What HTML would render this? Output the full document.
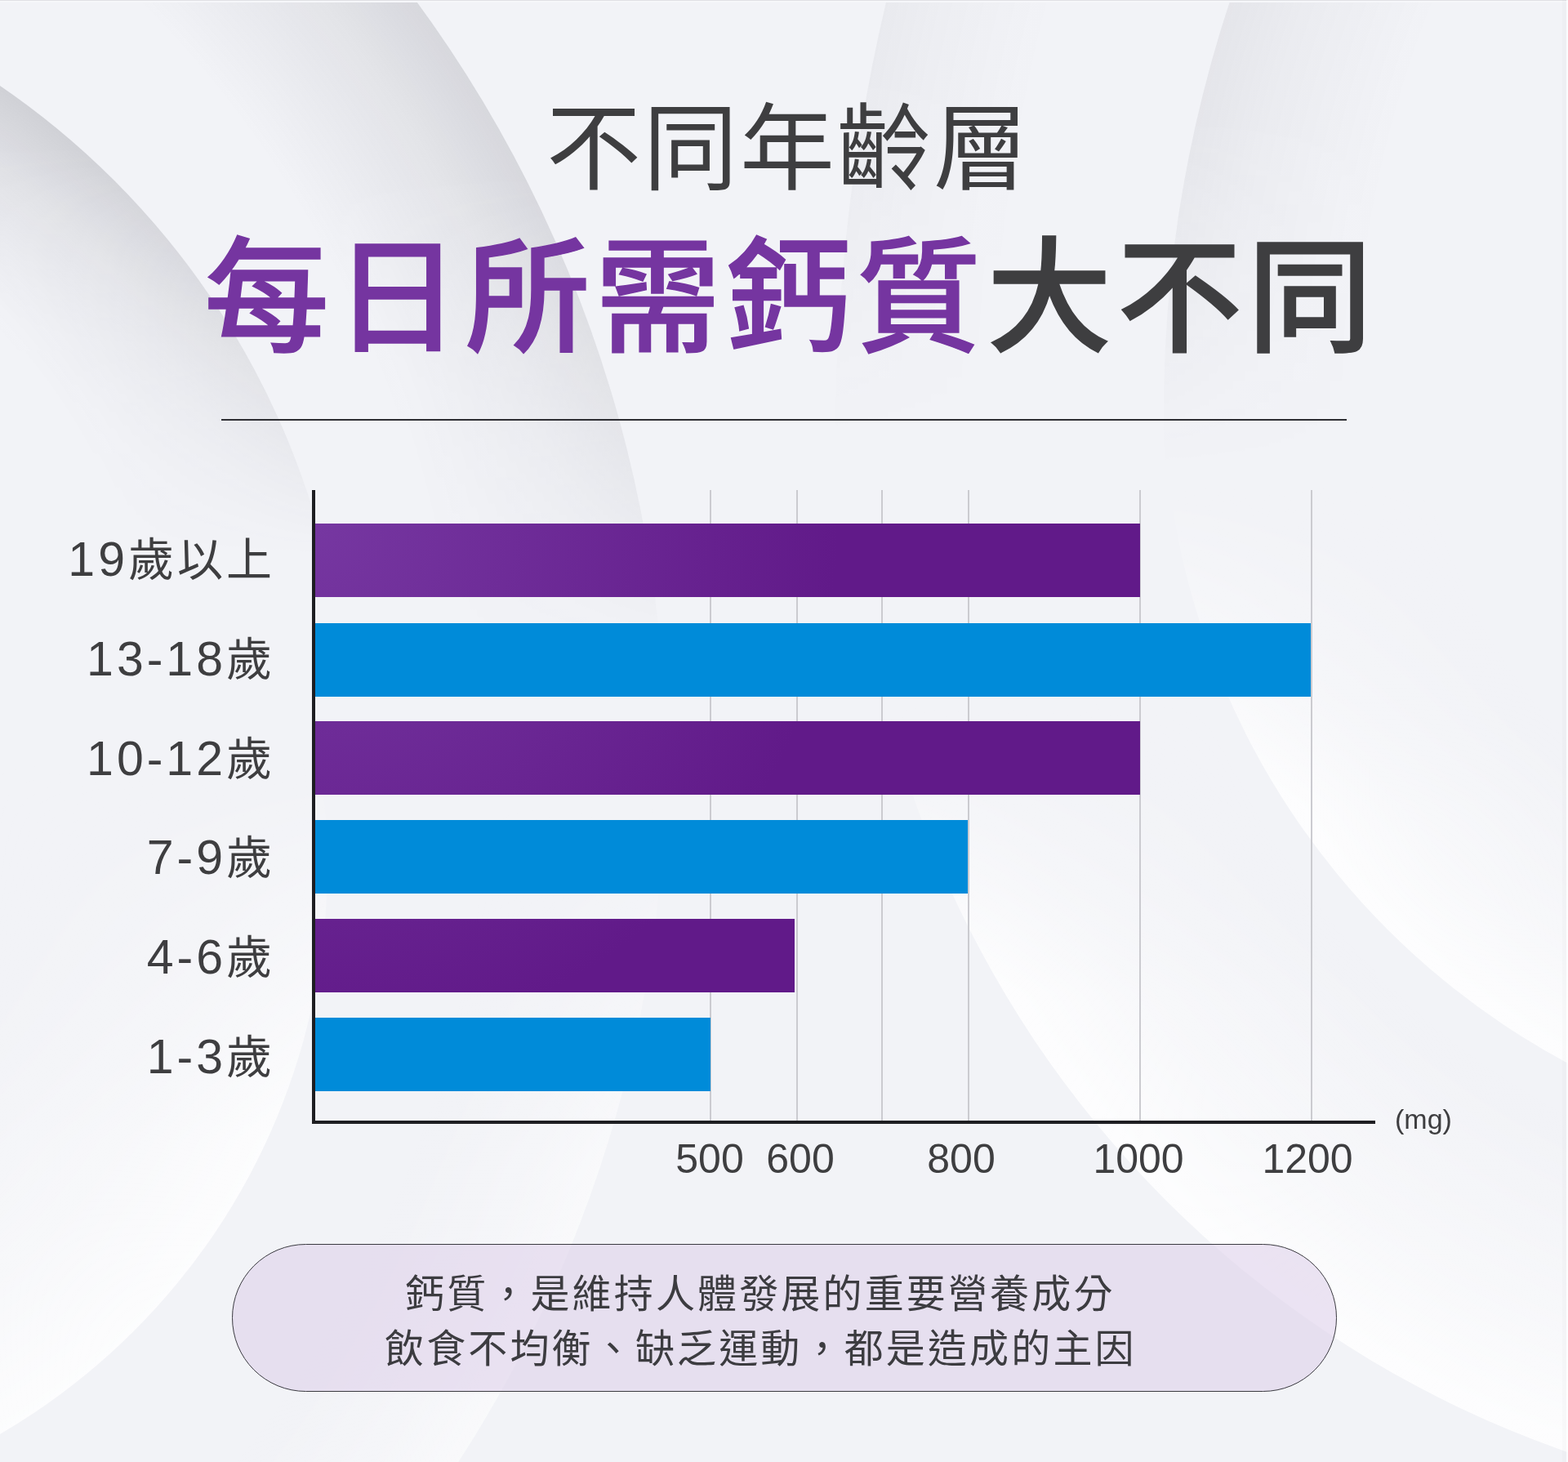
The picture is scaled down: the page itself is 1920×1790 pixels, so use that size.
<!DOCTYPE html>
<html lang="zh-Hant">
<head>
<meta charset="utf-8">
<style>
html,body{margin:0;padding:0;}
body{width:1920px;height:1790px;overflow:hidden;position:relative;background:#f2f3f7;
  font-family:"Liberation Sans","Noto Sans CJK TC",sans-serif;color:#3e3e40;}
#bg{position:absolute;left:0;top:0;width:1920px;height:1790px;}
.abs{position:absolute;white-space:nowrap;}
#t1{left:669px;top:125px;font:400 116px/1 "Liberation Sans","Noto Sans CJK TC",sans-serif;letter-spacing:2.5px;color:#3e3e40;}
#t2{left:250px;top:289px;font:500 153px/1 "Liberation Sans","Noto Sans CJK TC",sans-serif;letter-spacing:6.7px;color:#3e3e40;}
#t2 .p{color:#7535a0;-webkit-text-stroke:1.5px #7535a0;}
#t2 .d{-webkit-text-stroke:1.5px #3e3e40;}
#rule{left:271px;top:513px;width:1378px;height:2px;background:#2e2e33;}
.grid{position:absolute;top:600px;width:2px;height:773px;background:#cbcbd0;}
.bar{position:absolute;left:386px;height:90px;}
.pu{background-color:#611a89;}
.bl{background:#008bd9;}
#yax{left:382px;top:600px;width:4px;height:776px;background:#1e1e22;}
#xax{left:382px;top:1372px;width:1302px;height:4px;background:#1e1e22;}
.yl{position:absolute;right:1583px;font:400 59px/1 "Liberation Sans","Noto Sans CJK TC",sans-serif;letter-spacing:4px;color:#3e3e40;white-space:nowrap;}
.yl .c{font-size:56px;}
.xl{position:absolute;top:1394px;font:400 50px/1 "Liberation Sans","Noto Sans CJK TC",sans-serif;color:#3e3e40;white-space:nowrap;transform:translateX(-50%);}
#mg{left:1708px;top:1353px;font:400 34px/1 "Liberation Sans","Noto Sans CJK TC",sans-serif;color:#3e3e40;}
#pill{left:284px;top:1523px;width:1351px;height:179px;border:1px solid #3a3a40;border-radius:91px;background:rgba(220,206,234,0.55);}
.pt{position:absolute;font:400 48px/1 "Liberation Sans","Noto Sans CJK TC",sans-serif;letter-spacing:3.15px;color:#3c3c40;white-space:nowrap;}
</style>
</head>
<body>
<svg id="bg" width="1920" height="1790" viewBox="0 0 1920 1790"><defs><radialGradient id="gAs" cx="-759" cy="933" r="1574" gradientUnits="userSpaceOnUse"><stop offset="0.0000" stop-color="#4a4a55" stop-opacity="0"/><stop offset="0.8348" stop-color="#4a4a55" stop-opacity="0"/><stop offset="0.9422" stop-color="#4a4a55" stop-opacity="0.08800000000000001"/><stop offset="1.0000" stop-color="#4a4a55" stop-opacity="0.16"/></radialGradient><linearGradient id="lAs" x1="0" y1="0" x2="0" y2="1790" gradientUnits="userSpaceOnUse"><stop offset="0" stop-color="#fff"/><stop offset="0.12" stop-color="#fff"/><stop offset="0.45" stop-color="#000"/></linearGradient><mask id="mAs"><rect width="1920" height="1790" fill="url(#lAs)"/></mask><radialGradient id="gAh" cx="-759" cy="933" r="1574" gradientUnits="userSpaceOnUse"><stop offset="0.0000" stop-color="#ffffff" stop-opacity="0"/><stop offset="0.8602" stop-color="#ffffff" stop-opacity="0"/><stop offset="0.9511" stop-color="#ffffff" stop-opacity="0.30250000000000005"/><stop offset="1.0000" stop-color="#ffffff" stop-opacity="0.55"/></radialGradient><linearGradient id="lAh" x1="0" y1="0" x2="0" y2="1790" gradientUnits="userSpaceOnUse"><stop offset="0.55" stop-color="#000"/><stop offset="0.8" stop-color="#fff"/></linearGradient><mask id="mAh"><rect width="1920" height="1790" fill="url(#lAh)"/></mask><radialGradient id="gBs" cx="-553" cy="914" r="980" gradientUnits="userSpaceOnUse"><stop offset="0.0000" stop-color="#4a4a55" stop-opacity="0"/><stop offset="0.7653" stop-color="#4a4a55" stop-opacity="0"/><stop offset="0.9179" stop-color="#4a4a55" stop-opacity="0.11000000000000001"/><stop offset="1.0000" stop-color="#4a4a55" stop-opacity="0.2"/></radialGradient><linearGradient id="lBs" x1="0" y1="0" x2="0" y2="1790" gradientUnits="userSpaceOnUse"><stop offset="0" stop-color="#fff"/><stop offset="0.1" stop-color="#fff"/><stop offset="0.38" stop-color="#000"/></linearGradient><mask id="mBs"><rect width="1920" height="1790" fill="url(#lBs)"/></mask><radialGradient id="gBh" cx="-407" cy="1058" r="808" gradientUnits="userSpaceOnUse"><stop offset="0.0000" stop-color="#ffffff" stop-opacity="0"/><stop offset="0.4802" stop-color="#ffffff" stop-opacity="0"/><stop offset="0.8181" stop-color="#ffffff" stop-opacity="0.44000000000000006"/><stop offset="1.0000" stop-color="#ffffff" stop-opacity="0.8"/></radialGradient><linearGradient id="lBh" x1="0" y1="0" x2="0" y2="1790" gradientUnits="userSpaceOnUse"><stop offset="0.52" stop-color="#000"/><stop offset="0.78" stop-color="#fff"/></linearGradient><mask id="mBh"><rect width="1920" height="1790" fill="url(#lBh)"/></mask><radialGradient id="gR1s" cx="3017" cy="503" r="1592" gradientUnits="userSpaceOnUse"><stop offset="0.0000" stop-color="#4a4a55" stop-opacity="0"/><stop offset="0.8492" stop-color="#4a4a55" stop-opacity="0"/><stop offset="0.9472" stop-color="#4a4a55" stop-opacity="0.04125"/><stop offset="1.0000" stop-color="#4a4a55" stop-opacity="0.075"/></radialGradient><linearGradient id="lR1s" x1="0" y1="0" x2="0" y2="1790" gradientUnits="userSpaceOnUse"><stop offset="0" stop-color="#fff"/><stop offset="0.08" stop-color="#fff"/><stop offset="0.32" stop-color="#000"/></linearGradient><mask id="mR1s"><rect width="1920" height="1790" fill="url(#lR1s)"/></mask><radialGradient id="gR1h" cx="2363" cy="474" r="939" gradientUnits="userSpaceOnUse"><stop offset="0.0000" stop-color="#ffffff" stop-opacity="0"/><stop offset="0.6592" stop-color="#ffffff" stop-opacity="0"/><stop offset="0.8807" stop-color="#ffffff" stop-opacity="0.4675"/><stop offset="1.0000" stop-color="#ffffff" stop-opacity="0.85"/></radialGradient><linearGradient id="lR1h" x1="0" y1="0" x2="0" y2="1790" gradientUnits="userSpaceOnUse"><stop offset="0.33" stop-color="#000"/><stop offset="0.55" stop-color="#fff"/></linearGradient><mask id="mR1h"><rect width="1920" height="1790" fill="url(#lR1h)"/></mask><radialGradient id="gR2s" cx="3341" cy="535" r="2318" gradientUnits="userSpaceOnUse"><stop offset="0.0000" stop-color="#4a4a55" stop-opacity="0"/><stop offset="0.9137" stop-color="#4a4a55" stop-opacity="0"/><stop offset="0.9698" stop-color="#4a4a55" stop-opacity="0.027500000000000004"/><stop offset="1.0000" stop-color="#4a4a55" stop-opacity="0.05"/></radialGradient><linearGradient id="lR2s" x1="0" y1="0" x2="0" y2="1790" gradientUnits="userSpaceOnUse"><stop offset="0" stop-color="#fff"/><stop offset="0.05" stop-color="#fff"/><stop offset="0.3" stop-color="#000"/></linearGradient><mask id="mR2s"><rect width="1920" height="1790" fill="url(#lR2s)"/></mask><radialGradient id="gR2h" cx="2346" cy="551" r="1299" gradientUnits="userSpaceOnUse"><stop offset="0.0000" stop-color="#ffffff" stop-opacity="0"/><stop offset="0.7075" stop-color="#ffffff" stop-opacity="0"/><stop offset="0.8976" stop-color="#ffffff" stop-opacity="0.4675"/><stop offset="1.0000" stop-color="#ffffff" stop-opacity="0.85"/></radialGradient><linearGradient id="lR2h" x1="0" y1="0" x2="0" y2="1790" gradientUnits="userSpaceOnUse"><stop offset="0.48" stop-color="#000"/><stop offset="0.68" stop-color="#fff"/></linearGradient><mask id="mR2h"><rect width="1920" height="1790" fill="url(#lR2h)"/></mask></defs><rect width="1920" height="1790" fill="#f2f3f7"/><circle cx="-759" cy="933" r="1574" fill="url(#gAs)" mask="url(#mAs)"/><circle cx="-759" cy="933" r="1574" fill="url(#gAh)" mask="url(#mAh)"/><circle cx="-553" cy="914" r="980" fill="url(#gBs)" mask="url(#mBs)"/><circle cx="-407" cy="1058" r="808" fill="url(#gBh)" mask="url(#mBh)"/><circle cx="3017" cy="503" r="1592" fill="url(#gR1s)" mask="url(#mR1s)"/><circle cx="2363" cy="474" r="939" fill="url(#gR1h)" mask="url(#mR1h)"/><circle cx="3341" cy="535" r="2318" fill="url(#gR2s)" mask="url(#mR2s)"/><circle cx="2346" cy="551" r="1299" fill="url(#gR2h)" mask="url(#mR2h)"/><rect x="0" y="0" width="1920" height="1" fill="#e0e0e4"/><rect x="0" y="1" width="1920" height="2" fill="#f6f7fa"/><rect x="1913" y="0" width="5" height="1790" fill="#000" opacity="0.015"/><rect x="1918" y="0" width="2" height="1790" fill="#ffffff" opacity="0.7"/></svg>

<div id="t1" class="abs">不同年齡層</div>
<div id="t2" class="abs"><span class="p">每日所需鈣質</span><span class="d">大不同</span></div>
<div id="rule" class="abs"></div>

<div class="grid" style="left:869px"></div>
<div class="grid" style="left:975px"></div>
<div class="grid" style="left:1079px"></div>
<div class="grid" style="left:1185px"></div>
<div class="grid" style="left:1395px"></div>
<div class="grid" style="left:1605px"></div>

<div class="bar pu" style="top:641px;width:1010px;background-image:radial-gradient(circle 640px at 0px 0px,#7637a1,#611a89)"></div>
<div class="bar bl" style="top:763px;width:1219px"></div>
<div class="bar pu" style="top:883px;width:1010px;background-image:radial-gradient(circle 640px at 0px -242px,#7637a1,#611a89)"></div>
<div class="bar bl" style="top:1004px;width:799px"></div>
<div class="bar pu" style="top:1125px;width:587px;background-image:radial-gradient(circle 640px at 0px -484px,#7637a1,#611a89)"></div>
<div class="bar bl" style="top:1246px;width:484px"></div>

<div id="yax" class="abs"></div>
<div id="xax" class="abs"></div>

<div class="yl" style="top:656px">19<span class="c">歲以上</span></div>
<div class="yl" style="top:778px">13-18<span class="c">歲</span></div>
<div class="yl" style="top:900px">10-12<span class="c">歲</span></div>
<div class="yl" style="top:1021px">7-9<span class="c">歲</span></div>
<div class="yl" style="top:1143px">4-6<span class="c">歲</span></div>
<div class="yl" style="top:1265px">1-3<span class="c">歲</span></div>

<div class="xl" style="left:869px">500</div>
<div class="xl" style="left:980px">600</div>
<div class="xl" style="left:1177px">800</div>
<div class="xl" style="left:1394px">1000</div>
<div class="xl" style="left:1601px">1200</div>
<div id="mg" class="abs">(mg)</div>

<div id="pill" class="abs"></div>
<div class="pt" style="left:496px;top:1561px">鈣質，是維持人體發展的重要營養成分</div>
<div class="pt" style="left:471px;top:1628px">飲食不均衡、缺乏運動，都是造成的主因</div>
</body>
</html>
